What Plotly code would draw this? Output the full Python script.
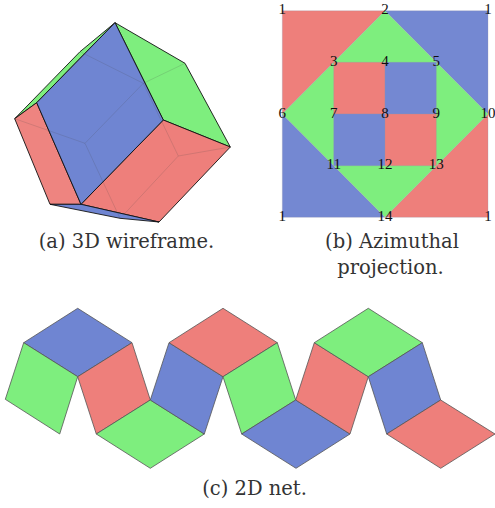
import plotly.graph_objects as go

RED = "#ee7f7b"
GREEN = "#7eee7e"
BLUE = "#6f85d2"
BLUE_B = "#7488d2"
RED_A = "#ee8480"

# (a) 3D wireframe: visible faces
wire_faces = [
    ([14.7, 80, 115, 36.7], [118.7, 51.7, 22.7, 102.7], GREEN),
    ([115, 185, 230.3, 163.3], [22.7, 63.3, 147, 120], GREEN),
    ([163.3, 230.3, 159, 81], [120, 147, 222, 204.3], RED),
    ([14.7, 36.7, 81, 50], [118.7, 102.7, 204.3, 204.3], RED_A),
    ([50, 81, 159, 120], [204.3, 204.3, 222, 218.3], BLUE),
    ([115, 163.3, 81, 36.7], [22.7, 120, 204.3, 102.7], BLUE),
]
# (a) hidden edges showing through
hidden_edges = [
    ([80, 143.3], [51.7, 83.3]),
    ([143.3, 185], [83.3, 63.3]),
    ([143.3, 85], [83.3, 143.3]),
    ([85, 14.7], [143.3, 118.7]),
    ([85, 120], [143.3, 218.3]),
    ([143.3, 178.3], [83.3, 156]),
    ([178.3, 230.3], [156, 147]),
    ([178.3, 125], [156, 213.3]),
]

# (b) azimuthal projection
az_faces = [
    ([282.3, 385, 282.3], [10.7, 10.7, 114], RED),
    ([385, 488, 488], [10.7, 10.7, 114], BLUE_B),
    ([282.3, 385, 282.3], [114, 217.3, 217.3], BLUE_B),
    ([488, 488, 385], [114, 217.3, 217.3], RED),
    ([385, 488, 385, 282.3], [10.7, 114, 217.3, 114], GREEN),
    ([333.7, 385, 385, 333.7], [62.3, 62.3, 114, 114], RED),
    ([385, 436.3, 436.3, 385], [62.3, 62.3, 114, 114], BLUE_B),
    ([333.7, 385, 385, 333.7], [114, 114, 165.7, 165.7], BLUE_B),
    ([385, 436.3, 436.3, 385], [114, 114, 165.7, 165.7], RED),
]
az_labels = ["1", "2", "1", "3", "4", "5", "6", "7", "8", "9", "10",
             "11", "12", "13", "1", "14", "1"]
az_label_x = [282.3, 385, 488, 333.7, 385, 436.3, 282.3, 333.7, 385, 436.3, 488,
              333.7, 385, 436.3, 282.3, 385, 488]
az_label_y = [10.7, 10.7, 10.7, 62.3, 62.3, 62.3, 114, 114, 114, 114, 114,
              165.7, 165.7, 165.7, 217.3, 217.3, 217.3]

# (c) 2D net
net_faces = [
    ([23.7, 77.7, 132, 77.7], [342.7, 308.3, 342.7, 376.7], BLUE),
    ([23.7, 77.7, 59.7, 5.3], [342.7, 376.7, 434, 399.3], GREEN),
    ([77.7, 132, 150.3, 96.3], [376.7, 342.7, 400, 434], RED),
    ([96.3, 150.3, 204.3, 150.3], [434, 400, 434, 468.3], GREEN),
    ([150.3, 169, 223, 204.3], [400, 342.7, 376.7, 434], BLUE),
    ([169, 223, 277.3, 223], [342.7, 308.3, 342.7, 376.7], RED),
    ([223, 277.3, 295.7, 241.7], [376.7, 342.7, 400, 434], GREEN),
    ([241.7, 295.7, 350, 296], [434, 400, 434, 468.3], BLUE),
    ([295.7, 314.3, 368.3, 350], [400, 342.7, 376.7, 434], RED),
    ([314.3, 368.3, 422.3, 368.3], [342.7, 308.3, 342.7, 376.7], GREEN),
    ([368.3, 422.3, 440.7, 386.7], [376.7, 342.7, 400, 434], BLUE),
    ([386.7, 440.7, 495, 440.7], [434, 400, 434, 468.3], RED),
]

captions = ["(a) 3D wireframe.", "(b) Azimuthal", "projection.", "(c) 2D net."]
caption_x = [126.5, 392, 390.5, 254.5]
caption_y = [243, 243, 269, 490]

LABEL_FONT = "Liberation Serif"
CAPTION_FONT = "DejaVu Serif"

fig = go.Figure()


def polygon(xs, ys, color, edge, width):
    fig.add_trace(go.Scatter(
        x=xs + xs[:1], y=ys + ys[:1], mode="lines", fill="toself",
        fillcolor=color, line=dict(color=edge, width=width),
        hoverinfo="skip", showlegend=False))


for xs, ys, c in wire_faces:
    polygon(xs, ys, c, "#111111", 0.9)
for xs, ys in hidden_edges:
    fig.add_trace(go.Scatter(x=xs, y=ys, mode="lines",
                             line=dict(color="rgba(70,70,70,0.22)", width=0.8),
                             hoverinfo="skip", showlegend=False))
for xs, ys, c in az_faces:
    polygon(xs, ys, c, "rgba(150,150,170,0.35)", 0.8)
fig.add_trace(go.Scatter(x=az_label_x, y=az_label_y, mode="text", text=az_labels,
                         textposition="middle center", cliponaxis=False,
                         textfont=dict(family=LABEL_FONT, size=15, color="#111111"),
                         hoverinfo="skip", showlegend=False))
for xs, ys, c in net_faces:
    polygon(xs, ys, c, "#555555", 0.8)
fig.add_trace(go.Scatter(x=caption_x, y=caption_y, mode="text", text=captions,
                         textposition="middle center", cliponaxis=False,
                         textfont=dict(family=CAPTION_FONT, size=19.5, color="#333333"),
                         hoverinfo="skip", showlegend=False))

fig.update_layout(
    width=495, height=508, margin=dict(l=0, r=0, t=0, b=0),
    paper_bgcolor="white", plot_bgcolor="white",
    xaxis=dict(range=[0, 495], visible=False, fixedrange=True),
    yaxis=dict(range=[508, 0], visible=False, fixedrange=True),
)
fig.write_html("out.html", config={"displayModeBar": False},
               post_script="document.body.style.margin='0';document.documentElement.style.overflow='hidden';")
